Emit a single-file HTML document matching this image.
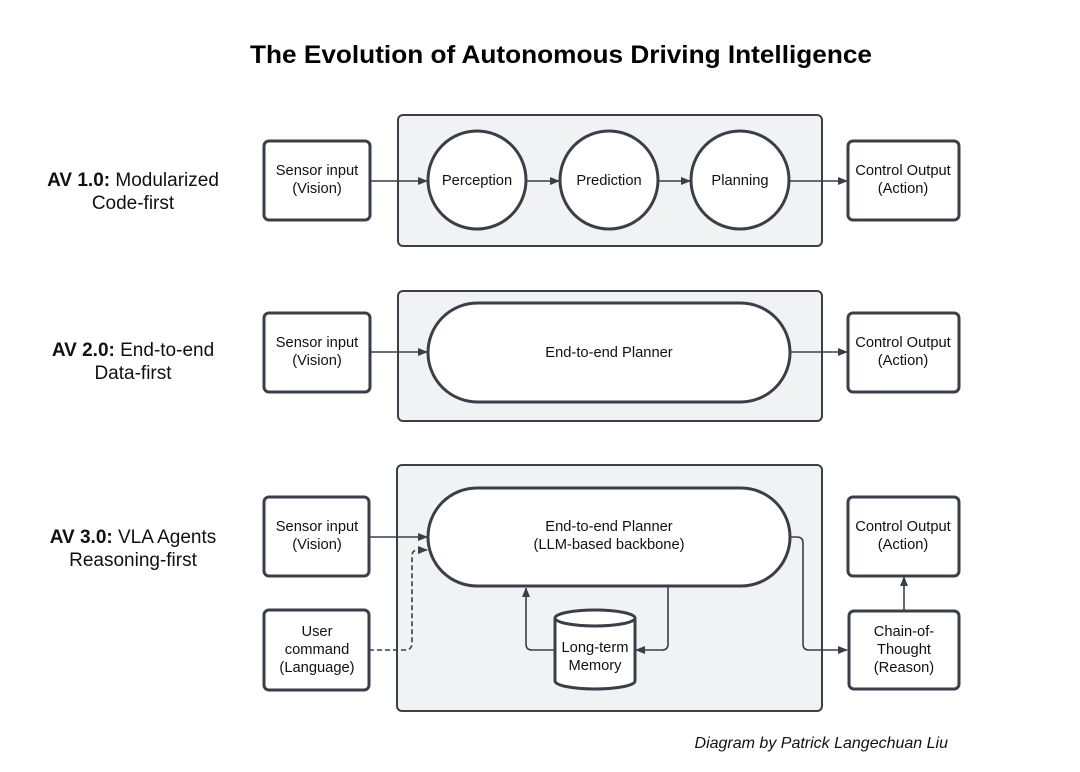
<!DOCTYPE html>
<html><head><meta charset="utf-8"><style>html,body{margin:0;padding:0;background:#fff}svg{display:block}</style></head>
<body>
<svg width="1080" height="772" viewBox="0 0 1080 772" xmlns="http://www.w3.org/2000/svg" font-family="Liberation Sans, Arial, sans-serif">
<defs>
<marker id="a" markerWidth="10" markerHeight="8" refX="9" refY="4" orient="auto" markerUnits="userSpaceOnUse"><path d="M0,0 L10,4 L0,8 z" fill="#3a3f47"/></marker>
</defs>
<text x="561" y="63" text-anchor="middle" font-size="25" font-weight="bold" fill="#000" textLength="622" lengthAdjust="spacingAndGlyphs">The Evolution of Autonomous Driving Intelligence</text>

<g font-size="19" fill="#111" text-anchor="middle">
<text x="133" y="186"><tspan font-weight="bold">AV 1.0:</tspan> Modularized</text>
<text x="133" y="209">Code-first</text>
<text x="133" y="356"><tspan font-weight="bold">AV 2.0:</tspan> End-to-end</text>
<text x="133" y="379">Data-first</text>
<text x="133" y="543"><tspan font-weight="bold">AV 3.0:</tspan> VLA Agents</text>
<text x="133" y="566">Reasoning-first</text>
</g>

<g stroke="#3a3f47" stroke-width="2" fill="#f1f2f4">
<rect x="398" y="115" width="424" height="131" rx="5"/>
<rect x="398" y="291" width="424" height="130" rx="5"/>
<rect x="397" y="465" width="425" height="246" rx="5"/>
</g>

<g stroke="#3a3f47" stroke-width="3" fill="#fff">
<rect x="264" y="141" width="106" height="79" rx="5"/>
<rect x="848" y="141" width="111" height="79" rx="5"/>
<circle cx="477" cy="180" r="49"/>
<circle cx="609" cy="180" r="49"/>
<circle cx="740" cy="180" r="49"/>
<rect x="264" y="313" width="106" height="79" rx="5"/>
<rect x="848" y="313" width="111" height="79" rx="5"/>
<rect x="428" y="303" width="362" height="99" rx="49.5"/>
<rect x="264" y="497" width="105" height="79" rx="5"/>
<rect x="264" y="610" width="105" height="80" rx="5"/>
<rect x="848" y="497" width="111" height="79" rx="5"/>
<rect x="849" y="611" width="110" height="78" rx="5"/>
<rect x="428" y="488" width="362" height="98" rx="49"/>
<path d="M555,618 L555,681 A40,8 0 0 0 635,681 L635,618"/>
<ellipse cx="595" cy="618" rx="40" ry="8"/>
</g>

<g stroke="#3a3f47" stroke-width="1.6" fill="none">
<line x1="370" y1="181" x2="427" y2="181" marker-end="url(#a)"/>
<line x1="526" y1="181" x2="559" y2="181" marker-end="url(#a)"/>
<line x1="658" y1="181" x2="690" y2="181" marker-end="url(#a)"/>
<line x1="789" y1="181" x2="847" y2="181" marker-end="url(#a)"/>
<line x1="370" y1="352" x2="427" y2="352" marker-end="url(#a)"/>
<line x1="790" y1="352" x2="847" y2="352" marker-end="url(#a)"/>
<line x1="369" y1="537" x2="427" y2="537" marker-end="url(#a)"/>
<path d="M369,650 L405,650 Q412,650 412,643 L412,556 Q412,550 418,550 L427,550" stroke-dasharray="5,3" marker-end="url(#a)"/>
<path d="M555,650 L532,650 Q526,650 526,644 L526,588" marker-end="url(#a)"/>
<path d="M668,586 L668,644 Q668,650 662,650 L636,650" marker-end="url(#a)"/>
<path d="M790,537 L797,537 Q803,537 803,543 L803,644 Q803,650 809,650 L847,650" marker-end="url(#a)"/>
<line x1="904" y1="611" x2="904" y2="577" marker-end="url(#a)"/>
</g>

<g font-size="14.7" fill="#111" text-anchor="middle">
<text x="317" y="175">Sensor input</text><text x="317" y="193">(Vision)</text>
<text x="903" y="175">Control Output</text><text x="903" y="193">(Action)</text>
<text x="477" y="185">Perception</text>
<text x="609" y="185">Prediction</text>
<text x="740" y="185">Planning</text>
<text x="317" y="347">Sensor input</text><text x="317" y="365">(Vision)</text>
<text x="903" y="347">Control Output</text><text x="903" y="365">(Action)</text>
<text x="609" y="357">End-to-end Planner</text>
<text x="317" y="531">Sensor input</text><text x="317" y="549">(Vision)</text>
<text x="903" y="531">Control Output</text><text x="903" y="549">(Action)</text>
<text x="609" y="531">End-to-end Planner</text>
<text x="609" y="549">(LLM-based backbone)</text>
<text x="317" y="636">User</text><text x="317" y="654">command</text><text x="317" y="672">(Language)</text>
<text x="904" y="636">Chain-of-</text><text x="904" y="654">Thought</text><text x="904" y="672">(Reason)</text>
<text x="595" y="652">Long-term</text><text x="595" y="670">Memory</text>
</g>
<text x="948" y="748" text-anchor="end" font-size="16" font-style="italic" fill="#111">Diagram by Patrick Langechuan Liu</text>
</svg>
</body></html>
